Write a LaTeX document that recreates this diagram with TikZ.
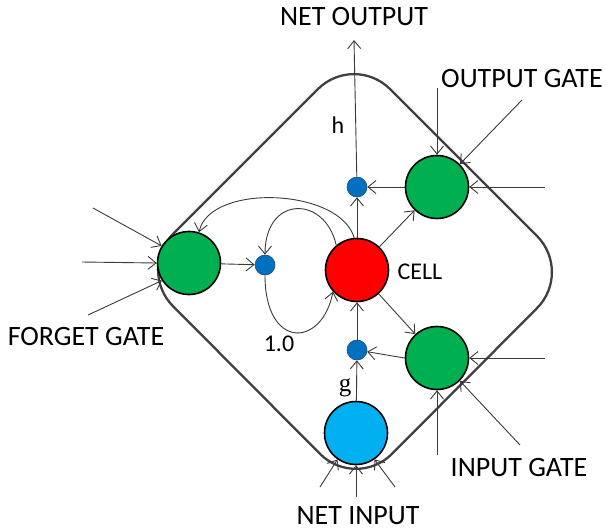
\documentclass[tikz,border=0pt]{standalone}
\usepackage{fontspec}
\setmainfont{Carlito}
\newfontfamily\serifg{Liberation Serif}
\usetikzlibrary{arrows.meta}
\definecolor{gatefill}{HTML}{00B050}
\definecolor{cellfill}{HTML}{FF0000}
\definecolor{netfill}{HTML}{00B0F0}
\definecolor{dotfill}{HTML}{0070C0}
\definecolor{dotline}{HTML}{1F4E79}
\definecolor{linegray}{HTML}{3A3A3A}
\definecolor{framegray}{HTML}{404040}
\begin{document}
\begin{tikzpicture}[x=1pt,y=-1pt,
  unit/.style={circle, draw=black, line width=1.6pt, minimum size=63pt, inner sep=0pt},
  gate/.style={unit, fill=gatefill},
  mult/.style={circle, draw=dotline, line width=0.6pt, fill=dotfill, minimum size=20pt, inner sep=0pt},
  arr/.style={draw=linegray, line width=0.9pt, -{Straight Barb[length=8pt,width=13pt,line width=0.9pt]}},
  biglabel/.style={font=\fontsize{28}{30}\selectfont, anchor=base, inner sep=0pt},
  smalllabel/.style={font=\fontsize{24}{26}\selectfont, anchor=base, inner sep=0pt},
  frame/.style={draw=framegray, line width=2.3pt, rounded corners=51pt}
]
\useasboundingbox (0,0) rectangle (607,531);

% outer rounded diamond
\draw[frame] (354,53) -- (573,272) -- (356,490) -- (137,270) -- cycle;

% units
\node[gate] (F) at (189,263) {};
\node[unit, fill=cellfill] (C) at (357,270) {};
\node[gate] (O) at (437,187) {};
\node[gate] (I) at (437,358) {};
\node[unit, fill=netfill] (N) at (356,433) {};
\node[mult] (D1) at (265,265) {};
\node[mult] (D2) at (357,187) {};
\node[mult] (D3) at (357,350) {};

% free ends
\coordinate (out) at (354,40);
\coordinate (f1) at (93,208);
\coordinate (f2) at (82,262);
\coordinate (f3) at (88,315);
\coordinate (o1) at (437,88);
\coordinate (o2) at (522,100);
\coordinate (o3) at (545,187);
\coordinate (i1) at (545,358);
\coordinate (i2) at (437,455);
\coordinate (i3) at (520,445);
\coordinate (n1) at (320,487);
\coordinate (n2) at (356,497);
\coordinate (n3) at (395,487);

% internal connections
\draw[arr] (D2) -- (out);
\draw[arr] (O) -- (D2);
\draw[arr] (C) -- (D2);
\draw[arr] (C) -- (O);
\draw[arr] (C) -- (I);
\draw[arr] (I.west) -- (D3);
\draw[arr] (D3) -- (C);
\draw[arr] (N) -- (D3);
\draw[arr] (F) -- (D1);
\draw[arr] (D1.south) .. controls (265,350) and (322,348) .. (C.222);
\draw[arr] (C.130) .. controls (325,195) and (265,195) .. (D1.north);
\draw[arr] (C.95) .. controls (340,188) and (210,183) .. (F.72);

% inputs
\draw[arr] (f1) -- (F.148);
\draw[arr] (f2) -- (F.180);
\draw[arr] (f3) -- (F.213);
\draw[arr] (o1) -- (O.north);
\draw[arr] (o2) -- (O.45);
\draw[arr] (o3) -- (O.east);
\draw[arr] (i1) -- (I.east);
\draw[arr] (i2) -- (I.south);
\draw[arr] (i3) -- (I.-45);
\draw[arr] (n1) -- (N.235);
\draw[arr] (n2) -- (N.south);
\draw[arr] (n3) -- (N.305);

% labels
\node[biglabel] (lno) at (354,25) {NET OUTPUT};
\node[biglabel] (log) at (522,87) {OUTPUT GATE};
\node[biglabel] (lfg) at (86,345) {FORGET GATE};
\node[biglabel] (lig) at (519,476) {INPUT GATE};
\node[biglabel] (lni) at (358,524) {NET INPUT};
\node[smalllabel] (lh) at (338,133) {h};
\node[smalllabel] (lcell) at (420,279) {CELL};
\node[smalllabel] (lone) at (279,351) {1.0};
\node[smalllabel, font=\serifg\fontsize{25}{27}\selectfont] (lg) at (345,391) {g};
\end{tikzpicture}
\end{document}
